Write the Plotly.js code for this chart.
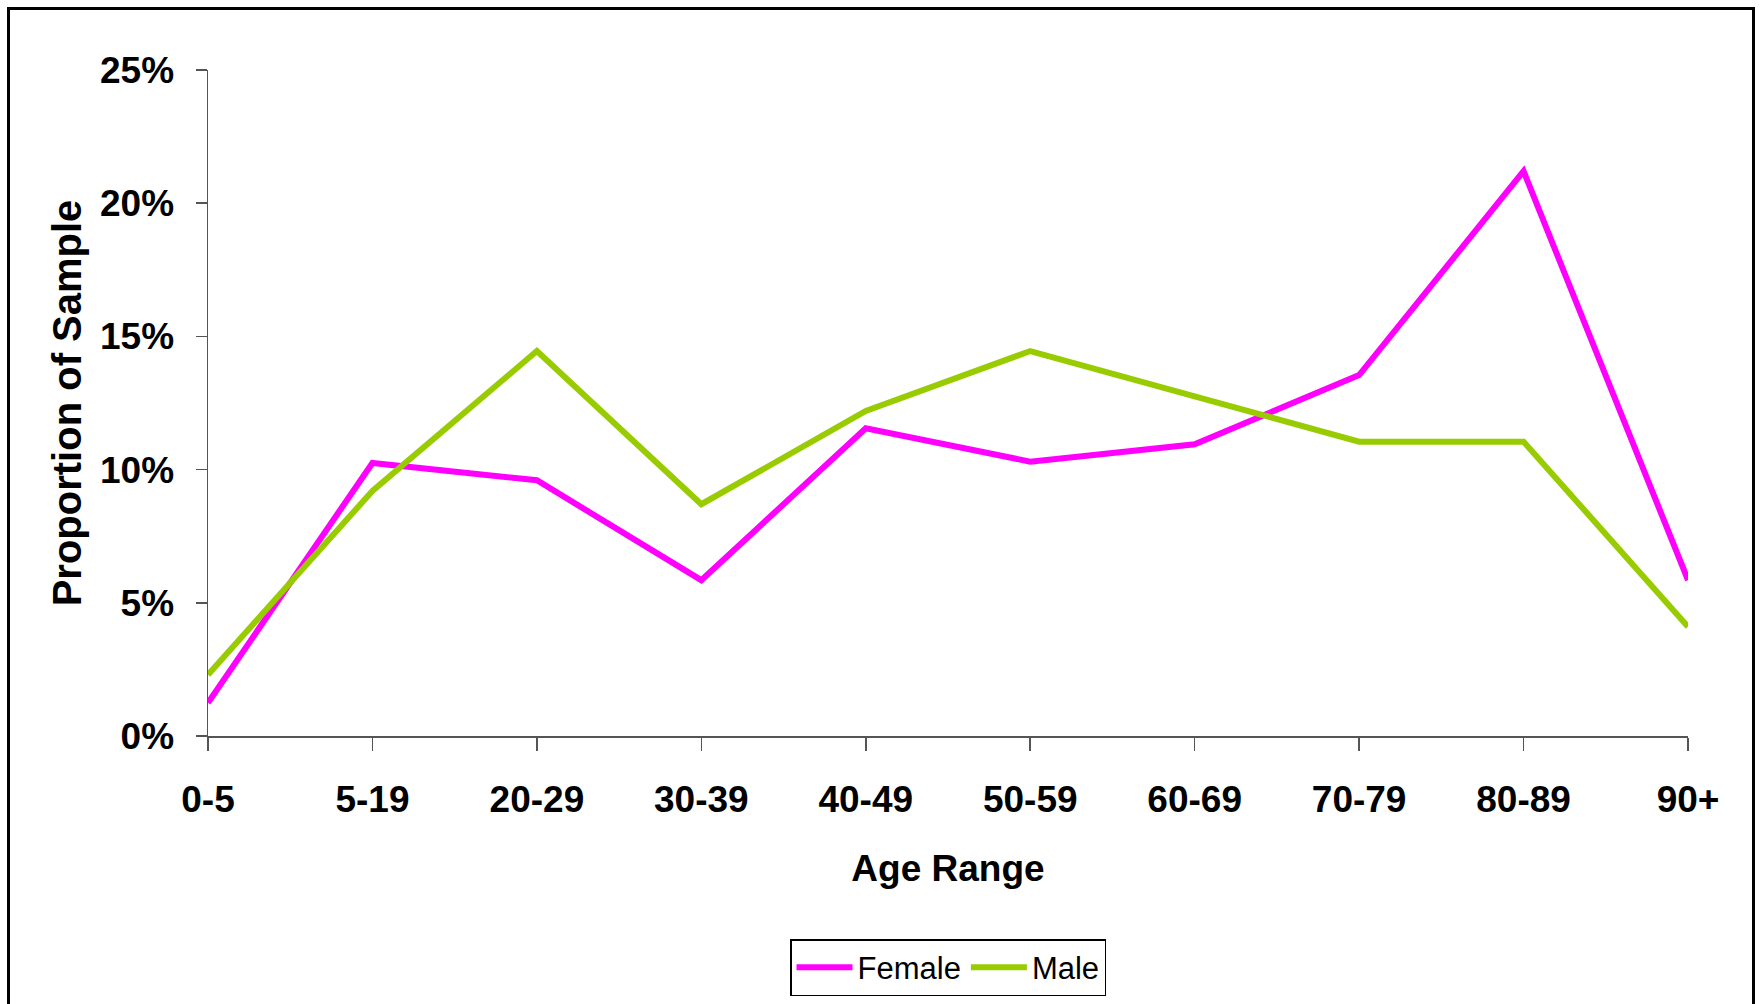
<!DOCTYPE html>
<html>
<head>
<meta charset="utf-8">
<script src="https://cdn.plot.ly/plotly-3.0.1.min.js"></script>
<style>
  html, body { margin: 0; padding: 0; background: #fff; }
  #wrap { position: relative; width: 1760px; height: 1004px; overflow: hidden; }
  #chart { position: absolute; left: 0; top: 0; width: 1760px; height: 1004px; }
  #frame { position: absolute; left: 7px; top: 7px; width: 1748px; height: 1020px;
           border: 3px solid #000; pointer-events: none; box-sizing: border-box; }
</style>
</head>
<body>
<div id="wrap">
  <div id="chart"></div>
  <div id="frame"></div>
</div>
<script>
const ageRanges = ["0-5", "5-19", "20-29", "30-39", "40-49", "50-59", "60-69", "70-79", "80-89", "90+"];
const femaleShare = [1.25, 10.25, 9.6, 5.85, 11.55, 10.3, 10.95, 13.55, 21.2, 5.85];
const maleShare   = [2.3, 9.2, 14.45, 8.7, 12.2, 14.45, 12.75, 11.05, 11.05, 4.1];
const seriesNames = ["Female", "Male"];
const yTickVals = [0, 5, 10, 15, 20, 25];
const yTickLabels = ["0%", "5%", "10%", "15%", "20%", "25%"];

const FONT = '"Liberation Sans", Arial, sans-serif';

const traces = [
  { x: ageRanges, y: femaleShare, name: seriesNames[0], type: 'scatter', mode: 'lines',
    line: { color: '#FF00FF', width: 6 }, cliponaxis: false },
  { x: ageRanges, y: maleShare, name: seriesNames[1], type: 'scatter', mode: 'lines',
    line: { color: '#99CC00', width: 6 }, cliponaxis: false }
];

const layout = {
  width: 1760, height: 1004,
  margin: { l: 208, r: 72, t: 70, b: 268, autoexpand: false },
  paper_bgcolor: '#fff', plot_bgcolor: '#fff',
  font: { family: FONT, color: '#000' },
  showlegend: true,
  legend: {
    orientation: 'h', x: 0.5, xanchor: 'center', y: -0.305, yanchor: 'top',
    bordercolor: '#000', borderwidth: 1.5, bgcolor: '#fff',
    font: { family: FONT, size: 31, color: '#000' },
    itemwidth: 56, tracegroupgap: 0
  },
  xaxis: {
    type: 'category', range: [0, 9], fixedrange: true,
    showgrid: false, zeroline: false,
    showline: true, linecolor: '#555', linewidth: 1.5,
    ticks: 'outside', ticklen: 13, tickcolor: '#555', tickwidth: 1.5,
    tickfont: { family: FONT, size: 37, color: '#000', weight: 'bold' },
    ticklabelstandoff: 17,
    title: { text: '<b>Age Range</b>', font: { family: FONT, size: 37, color: '#000' }, standoff: 36 },
    automargin: false
  },
  yaxis: {
    range: [0, 25], tickvals: yTickVals, ticktext: yTickLabels, fixedrange: true,
    showgrid: false, zeroline: false,
    showline: true, linecolor: '#555', linewidth: 1.5,
    ticks: 'outside', ticklen: 11, tickcolor: '#555', tickwidth: 1.5,
    tickfont: { family: FONT, size: 37, color: '#000', weight: 'bold' },
    ticklabelstandoff: 14,
    title: { text: '<b>Proportion of Sample</b>', font: { family: FONT, size: 40, color: '#000' }, standoff: 6 },
    automargin: false
  }
};

Plotly.newPlot('chart', traces, layout, { displayModeBar: false, staticPlot: true });
</script>
</body>
</html>
